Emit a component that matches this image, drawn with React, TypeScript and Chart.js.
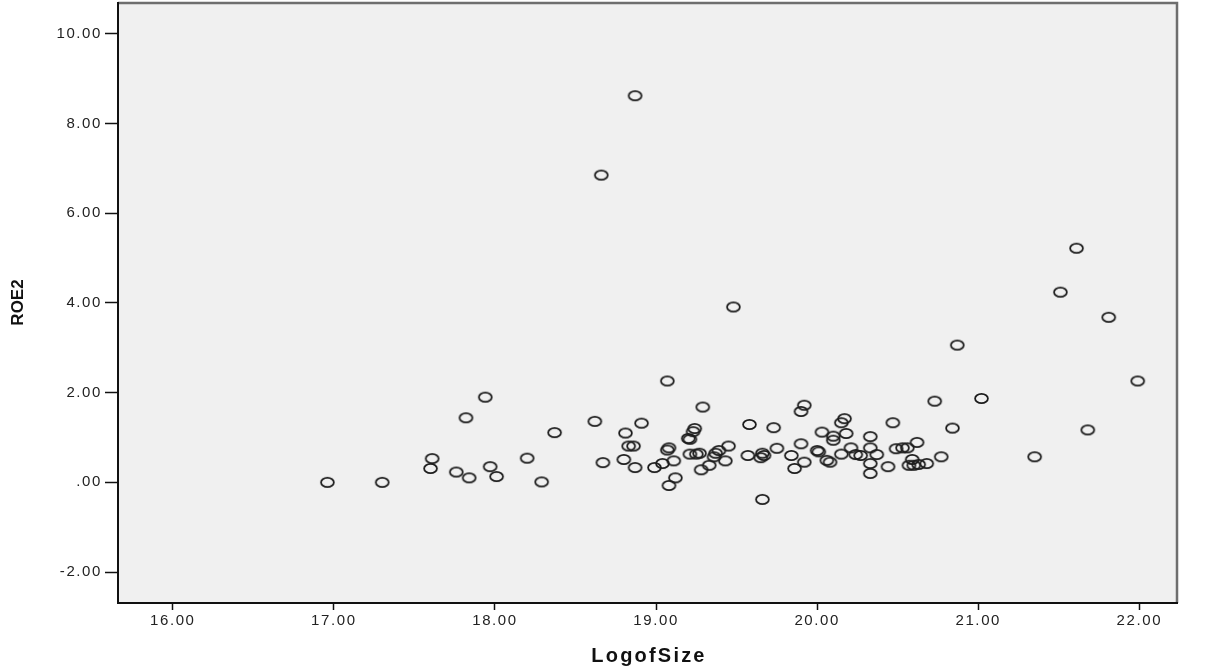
import React, { useEffect, useRef } from "react";
import { Chart, registerables } from "chart.js";

Chart.register(...registerables);

const logSize = [
  16.96, 17.3, 17.61, 17.6, 17.76, 17.82, 17.84, 17.94, 17.97, 18.01,
  18.2, 18.29, 18.37, 18.62, 18.67, 18.66, 18.8, 18.81, 18.83, 18.86,
  18.87, 18.87, 18.91, 18.99, 19.04, 19.07, 19.07, 19.08, 19.11, 19.12,
  19.08, 19.2, 19.21, 19.24, 19.23, 19.21, 19.25, 19.27, 19.28, 19.29,
  19.33, 19.36, 19.37, 19.39, 19.43, 19.45, 19.48, 19.57, 19.58, 19.65,
  19.66, 19.67, 19.66, 19.73, 19.75, 19.84, 19.86, 19.9, 19.9, 19.92,
  19.92, 20.0, 20.01, 20.03, 20.06, 20.08, 20.1, 20.1, 20.15, 20.17,
  20.18, 20.15, 20.21, 20.24, 20.27, 20.33, 20.33, 20.37, 20.33, 20.33,
  20.44, 20.47, 20.49, 20.53, 20.56, 20.57, 20.59, 20.6, 20.62, 20.63,
  20.68, 20.73, 20.77, 20.84, 20.87, 21.02, 21.35, 21.51, 21.61, 21.68,
  21.81, 21.99,
];

const roe2 = [
  0.0, 0.0, 0.53, 0.31, 0.23, 1.44, 0.1, 1.9, 0.35, 0.13,
  0.54, 0.01, 1.11, 1.36, 0.44, 6.85, 0.51, 1.1, 0.81, 0.81,
  0.33, 8.62, 1.32, 0.33, 0.42, 2.26, 0.72, 0.77, 0.48, 0.1,
  -0.07, 0.98, 0.96, 1.2, 1.13, 0.63, 0.63, 0.65, 0.28, 1.68,
  0.38, 0.57, 0.65, 0.71, 0.48, 0.81, 3.91, 0.6, 1.29, 0.55,
  0.65, 0.6, -0.38, 1.22, 0.76, 0.6, 0.31, 0.86, 1.58, 1.72,
  0.45, 0.71, 0.68, 1.12, 0.49, 0.45, 1.03, 0.94, 1.33, 1.42,
  1.09, 0.63, 0.77, 0.62, 0.6, 1.02, 0.77, 0.62, 0.42, 0.2,
  0.35, 1.33, 0.75, 0.77, 0.77, 0.38, 0.51, 0.38, 0.89, 0.4,
  0.42, 1.81, 0.57, 1.21, 3.06, 1.87, 0.57, 4.24, 5.22, 1.17,
  3.68, 2.26,
];

const xTicks = [16, 17, 18, 19, 20, 21, 22];
const xTickLabels = ["16.00", "17.00", "18.00", "19.00", "20.00", "21.00", "22.00"];
const yTicks = [-2, 0, 2, 4, 6, 8, 10];
const yTickLabels = ["-2.00", ".00", "2.00", "4.00", "6.00", "8.00", "10.00"];
const xTitle = "LogofSize";
const yTitle = "ROE2";

const FONT = "'Liberation Sans', Arial, sans-serif";

function makeEllipse(): HTMLCanvasElement {
  const c = document.createElement("canvas");
  c.width = 17;
  c.height = 13;
  const g = c.getContext("2d")!;
  g.beginPath();
  g.ellipse(8.5, 6.5, 6.4, 4.7, 0, 0, Math.PI * 2);
  g.lineWidth = 1.8;
  g.strokeStyle = "#1c1c1c";
  g.stroke();
  return c;
}

const framePlugin = {
  id: "frame",
  beforeDraw(chart: any) {
    const { ctx, chartArea } = chart;
    const { left, top, right, bottom } = chartArea;
    ctx.save();
    ctx.fillStyle = "#f0f0f0";
    ctx.fillRect(left, top, right - left, bottom - top);
    ctx.restore();
    (ctx as any).letterSpacing = "1.6px";
  },
  afterDraw(chart: any) {
    const { ctx, chartArea } = chart;
    const { left, top, right, bottom } = chartArea;
    ctx.save();
    ctx.lineWidth = 2.5;
    ctx.strokeStyle = "#6e6e6e";
    ctx.beginPath();
    ctx.moveTo(left, top + 1);
    ctx.lineTo(right - 1, top + 1);
    ctx.lineTo(right - 1, bottom);
    ctx.stroke();
    ctx.lineWidth = 2;
    ctx.strokeStyle = "#111";
    ctx.beginPath();
    ctx.moveTo(left, top);
    ctx.lineTo(left, bottom);
    ctx.lineTo(right, bottom);
    ctx.stroke();

    // axis titles
    ctx.fillStyle = "#111";
    ctx.textAlign = "center";
    ctx.textBaseline = "middle";
    (ctx as any).letterSpacing = "2.2px";
    ctx.font = `bold 20px ${FONT}`;
    ctx.fillText(xTitle, (left + right) / 2 + 1, 656);
    (ctx as any).letterSpacing = "0px";
    ctx.translate(18, (top + bottom) / 2);
    ctx.rotate(-Math.PI / 2);
    ctx.font = `bold 17px ${FONT}`;
    ctx.fillText(yTitle, 0, 0);
    ctx.restore();
    (ctx as any).letterSpacing = "0px";
  },
};

export default function App() {
  const ref = useRef<HTMLCanvasElement | null>(null);

  useEffect(() => {
    document.body.style.margin = "0";
    const canvas = ref.current;
    if (!canvas) return;
    const pts = logSize.map((x, i) => ({ x, y: roe2[i] }));
    const chart = new Chart(canvas, {
      type: "scatter",
      data: {
        datasets: [
          {
            data: pts,
            pointStyle: makeEllipse() as any,
            pointRadius: 7,
            pointHoverRadius: 7,
            borderColor: "#1c1c1c",
            backgroundColor: "transparent",
          },
        ],
      },
      options: {
        animation: false,
        responsive: true,
        maintainAspectRatio: false,
        events: [],
        layout: {
          autoPadding: false,
          padding: { top: 2, right: 27, left: 0, bottom: 0 },
        },
        plugins: {
          legend: { display: false },
          tooltip: { enabled: false },
        },
        scales: {
          x: {
            type: "linear",
            min: 15.66,
            max: 22.24,
            afterFit: (s: any) => {
              s.height = 66;
              s.paddingLeft = 0;
              s.paddingRight = 0;
            },
            afterBuildTicks: (s: any) => {
              s.ticks = xTicks.map((v) => ({ value: v }));
            },
            border: { display: false },
            grid: {
              drawOnChartArea: false,
              drawTicks: true,
              tickLength: 7,
              tickColor: "#111",
              tickWidth: 1.5,
            },
            ticks: {
              padding: 2,
              color: "#222",
              font: { family: FONT, size: 15 },
              maxRotation: 0,
              callback: (v: any) => {
                const i = xTicks.indexOf(Number(v));
                return i >= 0 ? xTickLabels[i] : "";
              },
            },
            title: { display: false },
          },
          y: {
            type: "linear",
            min: -2.69,
            max: 10.71,
            afterFit: (s: any) => {
              s.width = 118;
              s.paddingTop = 0;
              s.paddingBottom = 0;
            },
            afterBuildTicks: (s: any) => {
              s.ticks = yTicks.map((v) => ({ value: v }));
            },
            border: { display: false },
            grid: {
              drawOnChartArea: false,
              drawTicks: true,
              tickLength: 13,
              tickColor: "#111",
              tickWidth: 1.5,
            },
            ticks: {
              padding: 3,
              color: "#222",
              font: { family: FONT, size: 15 },
              callback: (v: any) => {
                const i = yTicks.indexOf(Number(v));
                return i >= 0 ? yTickLabels[i] : "";
              },
            },
            title: { display: false },
          },
        },
      },
      plugins: [framePlugin],
    });
    return () => chart.destroy();
  }, []);

  return (
    <div
      style={{
        position: "fixed",
        left: 0,
        top: 0,
        width: 1205,
        height: 669,
        background: "#fff",
      }}
    >
      <canvas ref={ref} />
    </div>
  );
}
